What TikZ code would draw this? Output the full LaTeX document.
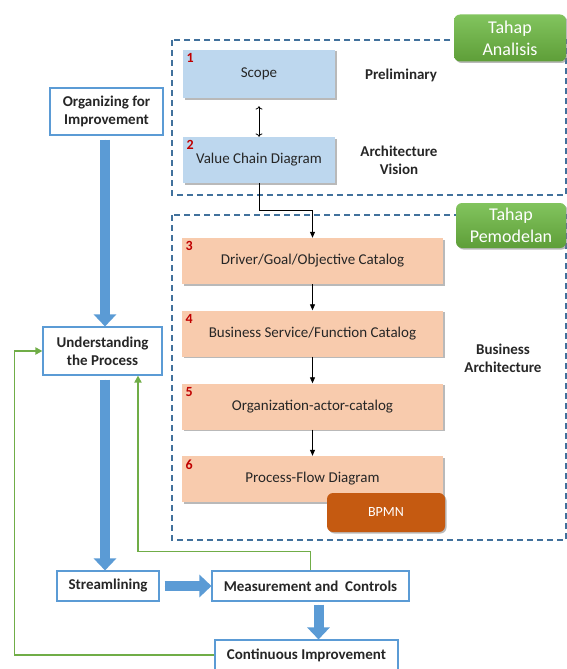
\documentclass[tikz,border=0pt]{standalone}
\usepackage{fontspec}
\setmainfont{Carlito}
\usetikzlibrary{arrows.meta,shadows,positioning}

\definecolor{boxblue}{HTML}{BDD7EE}
\definecolor{boxpeach}{HTML}{F8CBAD}
\definecolor{edgeblue}{HTML}{5B9BD5}
\definecolor{dashblue}{HTML}{41719C}
\definecolor{tahaptop}{HTML}{82C45E}
\definecolor{tahapbot}{HTML}{5E9E38}
\definecolor{bpmnorange}{HTML}{C55A11}
\definecolor{numred}{HTML}{C00000}
\definecolor{loopgreen}{HTML}{70AD47}
\definecolor{textgray}{HTML}{262626}

\tikzset{
    stepshadow/.style={drop shadow={shadow xshift=1.5pt, shadow yshift=-1.5pt, fill=black!50, opacity=.55}},
    stagebox/.style={stepshadow, minimum height=46pt, inner sep=0pt, text=textgray,
        font=\fontsize{15}{17}\selectfont},
    prelimbox/.style={stagebox, fill=boxblue, minimum width=152pt},
    modelbox/.style={stagebox, fill=boxpeach, minimum width=261pt},
    stepnum/.style={anchor=north west, text=numred, inner sep=3.5pt, font=\bfseries\fontsize{14}{16}\selectfont},
    phaselabel/.style={align=center, text=textgray, font=\bfseries\fontsize{15}{18}\selectfont},
    tahapbox/.style={stepshadow, rounded corners=6pt, top color=tahaptop, bottom color=tahapbot,
        draw=none, text=white, align=center, inner sep=0pt, font=\fontsize{18}{22}\selectfont},
    phasebox/.style={draw=dashblue, line width=1.1pt, dash pattern=on 6pt off 4pt},
    cyclebox/.style={draw=edgeblue, line width=1.1pt, fill=white, align=center, inner sep=0pt,
        text=textgray, font=\bfseries\fontsize{15}{18}\selectfont},
    bigarrow/.style={draw=edgeblue, fill=edgeblue, line width=10pt, -{Triangle[length=12pt,width=22pt]}},
    steparrow/.style={black, line width=0.8pt, -{Triangle[length=6pt,width=5pt]}},
    loopline/.style={draw=loopgreen, line width=1.8pt, -{Triangle[length=7pt,width=7pt]}}
}

\begin{document}
\begin{tikzpicture}[x=1pt, y=-1pt]
    \useasboundingbox (0,0) rectangle (566,669);

    % phase frames
    \draw[phasebox] (172,40) rectangle (566,195);
    \draw[phasebox] (172,215) rectangle (566,540);

    \node[tahapbox, minimum width=112pt, minimum height=47pt] (analisis) at (510,38) {Tahap\\Analisis};
    \node[tahapbox, minimum width=110pt, minimum height=45pt] (pemodelan) at (511,225.5) {Tahap\\Pemodelan};

    % preliminary and vision
    \node[prelimbox, minimum height=48pt] (scope) at (259,74) {Scope};
    \node[stepnum] at (scope.north west) {1};
    \node[prelimbox] (vcd) at (259,160) {Value Chain Diagram};
    \node[stepnum] at (vcd.north west) {2};
    \node[phaselabel] (prelim) at (401,75) {Preliminary};
    \node[phaselabel] (archvis) at (399,160) {Architecture\\Vision};

    % business architecture
    \node[modelbox] (driver) at (312.5,261) {Driver/Goal/Objective Catalog};
    \node[stepnum] at (driver.north west) {3};
    \node[modelbox] (service) at (312.5,333.5) {Business Service/Function Catalog};
    \node[stepnum] at (service.north west) {4};
    \node[modelbox] (actor) at (312.5,406.5) {Organization-actor-catalog};
    \node[stepnum] at (actor.north west) {5};
    \node[modelbox] (flow) at (312.5,479) {Process-Flow Diagram};
    \node[stepnum] at (flow.north west) {6};
    \node[stepshadow, rounded corners=6pt, fill=bpmnorange, text=white, minimum width=118pt,
        minimum height=39pt, font=\fontsize{14}{16}\selectfont] (bpmn) at (386,512.5) {BPMN};
    \node[phaselabel] (busarch) at (503,358) {Business\\Architecture};

    \draw[steparrow, <->] (scope.south) ++(0,8) -- (vcd.north);
    \draw[steparrow] (vcd.south) -- ++(0,27) -| (driver.north);
    \draw[steparrow] (driver) -- (service);
    \draw[steparrow] (service) -- (actor);
    \draw[steparrow] (actor) -- (flow);

    % improvement cycle
    \node[cyclebox, minimum width=113pt, minimum height=47pt] (organize) at (106.5,111.5) {Organizing for\\Improvement};
    \node[cyclebox, minimum width=119pt, minimum height=48pt] (understand) at (102.5,351) {Understanding\\the Process};
    \node[cyclebox, minimum width=102pt, minimum height=30pt] (stream) at (108,586) {Streamlining};
    \node[cyclebox, minimum width=197pt, minimum height=30pt] (measure) at (310.5,586) {Measurement and~~Controls};
    \node[cyclebox, minimum width=183pt, minimum height=30pt] (improve) at (306.5,655) {Continuous Improvement};

    \draw[bigarrow, shorten <=4pt] ([xshift=-1.5pt]organize.south) -- ([xshift=-1.5pt]organize.south |- understand.north);
    \draw[bigarrow, shorten <=4pt] ([xshift=2.5pt]understand.south) -- ([xshift=2.5pt]understand.south |- stream.north);
    \draw[bigarrow, shorten <=5pt] (stream.east) -- (measure.west);
    \draw[bigarrow, shorten <=3pt] ([xshift=8pt]measure.south) -- ([xshift=12pt]improve.north);

    \draw[loopline] (measure.north) -- ++(0,-19) -| ([xshift=35.5pt]understand.south);
    \draw[loopline] (improve.west) -- ++(-200,0) |- (understand.west);
\end{tikzpicture}
\end{document}
